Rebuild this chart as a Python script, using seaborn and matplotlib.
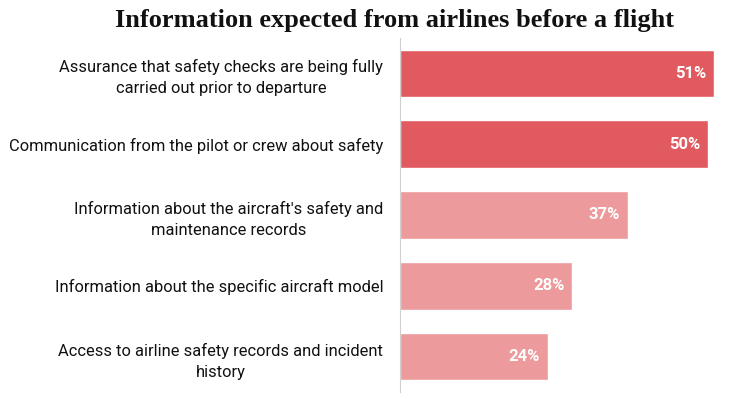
import pandas as pd
import matplotlib.pyplot as plt
import seaborn as sns

# data
categories = [
    "Assurance that safety checks are being fully\ncarried out prior to departure",
    "Communication from the pilot or crew about safety",
    "Information about the aircraft's safety and\nmaintenance records",
    "Information about the specific aircraft model",
    "Access to airline safety records and incident\nhistory",
]
values = [51, 50, 37, 28, 24]
groups = ["top", "top", "other", "other", "other"]

df = pd.DataFrame({"label": categories, "value": values, "group": groups})

sns.set_theme(style="white")
plt.rcParams["font.family"] = ["Roboto", "DejaVu Sans"]

fig = plt.figure(figsize=(7.34, 3.99), dpi=100)
ax = fig.add_axes([400 / 734, 1 - 392 / 399, 320 / 734, 354 / 399])

sns.barplot(
    data=df, x="value", y="label", hue="group",
    palette={"top": "#E15A60", "other": "#ED9A9C"},
    width=0.67, dodge=False, legend=False, saturation=1, ax=ax,
)

for i, v in enumerate(values):
    ax.text(v - 1.3, i, f"{v}%", ha="right", va="center",
            color="white", fontsize=12, fontweight="bold")

ax.set_xlim(0, 51.95)
ax.set_ylim(4.5, -0.5)
ax.set_xlabel("")
ax.set_ylabel("")
ax.set_xticks([])
ax.tick_params(axis="y", length=0, pad=12, labelsize=11.9, labelcolor="#111111")
for lbl in ax.get_yticklabels():
    lbl.set_horizontalalignment("right")
    lbl.set_multialignment("center")
    lbl.set_linespacing(1.5)
for s in ["top", "right", "bottom"]:
    ax.spines[s].set_visible(False)
ax.spines["left"].set_color("#d0d0d0")
ax.spines["left"].set_linewidth(0.8)

fig.text(0.537, 0.948, "Information expected from airlines before a flight",
         ha="center", va="center", fontsize=19, fontweight="bold",
         family="Liberation Serif", color="#111111")

fig.savefig("out.png", dpi=100)
